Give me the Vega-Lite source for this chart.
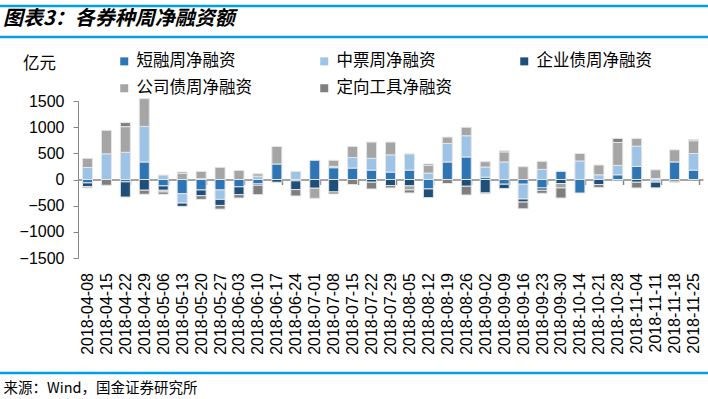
{
"$schema": "https://vega.github.io/schema/vega-lite/v6.json",
"width": 625, "height": 157,
"autosize": {"type": "none"},
"padding": {"left": 78, "top": 101, "right": 5, "bottom": 141},
"background": "white",
"config": {"view": {"stroke": null}, "axisY": {"labelOverlap": false}, "axisQuantitative": {"labelOverlap": false}},
"title": {"text": "图表3：各券种周净融资额", "anchor": "start", "frame": "group", "font": "Noto Sans CJK SC", "fontSize": 20, "fontWeight": "bold", "fontStyle": "italic", "color": "#000000", "dx": -75, "dy": 24, "offset": 0},
"layer": [
{
"data": {"values": [
{"d":"2018-04-08","s":"短融周净融资","i":1,"v":-65},{"d":"2018-04-08","s":"中票周净融资","i":2,"v":230},{"d":"2018-04-08","s":"企业债周净融资","i":3,"v":-70},{"d":"2018-04-08","s":"公司债周净融资","i":4,"v":175},{"d":"2018-04-08","s":"定向工具净融资","i":5,"v":-25},
{"d":"2018-04-15","s":"中票周净融资","i":2,"v":490},{"d":"2018-04-15","s":"公司债周净融资","i":4,"v":450},{"d":"2018-04-15","s":"定向工具净融资","i":5,"v":-110},
{"d":"2018-04-22","s":"短融周净融资","i":1,"v":-45},{"d":"2018-04-22","s":"中票周净融资","i":2,"v":520},{"d":"2018-04-22","s":"企业债周净融资","i":3,"v":-290},{"d":"2018-04-22","s":"公司债周净融资","i":4,"v":490},{"d":"2018-04-22","s":"定向工具净融资","i":5,"v":77},
{"d":"2018-04-29","s":"短融周净融资","i":1,"v":335},{"d":"2018-04-29","s":"中票周净融资","i":2,"v":680},{"d":"2018-04-29","s":"企业债周净融资","i":3,"v":-205},{"d":"2018-04-29","s":"公司债周净融资","i":4,"v":530},{"d":"2018-04-29","s":"定向工具净融资","i":5,"v":-77},
{"d":"2018-05-06","s":"短融周净融资","i":1,"v":-122},{"d":"2018-05-06","s":"中票周净融资","i":2,"v":84},{"d":"2018-05-06","s":"企业债周净融资","i":3,"v":-84},{"d":"2018-05-06","s":"公司债周净融资","i":4,"v":-32},{"d":"2018-05-06","s":"定向工具净融资","i":5,"v":-45},
{"d":"2018-05-13","s":"短融周净融资","i":1,"v":-270},{"d":"2018-05-13","s":"中票周净融资","i":2,"v":-180},{"d":"2018-05-13","s":"企业债周净融资","i":3,"v":-64},{"d":"2018-05-13","s":"公司债周净融资","i":4,"v":116},{"d":"2018-05-13","s":"定向工具净融资","i":5,"v":26},
{"d":"2018-05-20","s":"短融周净融资","i":1,"v":-200},{"d":"2018-05-20","s":"中票周净融资","i":2,"v":15},{"d":"2018-05-20","s":"企业债周净融资","i":3,"v":-110},{"d":"2018-05-20","s":"公司债周净融资","i":4,"v":140},{"d":"2018-05-20","s":"定向工具净融资","i":5,"v":-70},
{"d":"2018-05-27","s":"短融周净融资","i":1,"v":-200},{"d":"2018-05-27","s":"中票周净融资","i":2,"v":-180},{"d":"2018-05-27","s":"企业债周净融资","i":3,"v":-116},{"d":"2018-05-27","s":"公司债周净融资","i":4,"v":232},{"d":"2018-05-27","s":"定向工具净融资","i":5,"v":-70},
{"d":"2018-06-03","s":"短融周净融资","i":1,"v":-140},{"d":"2018-06-03","s":"企业债周净融资","i":3,"v":-150},{"d":"2018-06-03","s":"公司债周净融资","i":4,"v":174},{"d":"2018-06-03","s":"定向工具净融资","i":5,"v":-64},
{"d":"2018-06-10","s":"短融周净融资","i":1,"v":-84},{"d":"2018-06-10","s":"中票周净融资","i":2,"v":64},{"d":"2018-06-10","s":"企业债周净融资","i":3,"v":-26},{"d":"2018-06-10","s":"公司债周净融资","i":4,"v":45},{"d":"2018-06-10","s":"定向工具净融资","i":5,"v":-180},
{"d":"2018-06-17","s":"短融周净融资","i":1,"v":296},{"d":"2018-06-17","s":"企业债周净融资","i":3,"v":-52},{"d":"2018-06-17","s":"公司债周净融资","i":4,"v":335},
{"d":"2018-06-24","s":"短融周净融资","i":1,"v":-26},{"d":"2018-06-24","s":"中票周净融资","i":2,"v":155},{"d":"2018-06-24","s":"企业债周净融资","i":3,"v":-167},{"d":"2018-06-24","s":"定向工具净融资","i":5,"v":-122},
{"d":"2018-07-01","s":"短融周净融资","i":1,"v":367},{"d":"2018-07-01","s":"企业债周净融资","i":3,"v":-167},{"d":"2018-07-01","s":"公司债周净融资","i":4,"v":-193},
{"d":"2018-07-08","s":"短融周净融资","i":1,"v":225},{"d":"2018-07-08","s":"中票周净融资","i":2,"v":26},{"d":"2018-07-08","s":"企业债周净融资","i":3,"v":-238},{"d":"2018-07-08","s":"公司债周净融资","i":4,"v":116},{"d":"2018-07-08","s":"定向工具净融资","i":5,"v":-39},
{"d":"2018-07-15","s":"短融周净融资","i":1,"v":219},{"d":"2018-07-15","s":"中票周净融资","i":2,"v":200},{"d":"2018-07-15","s":"公司债周净融资","i":4,"v":212},{"d":"2018-07-15","s":"定向工具净融资","i":5,"v":-97},
{"d":"2018-07-22","s":"短融周净融资","i":1,"v":180},{"d":"2018-07-22","s":"中票周净融资","i":2,"v":225},{"d":"2018-07-22","s":"企业债周净融资","i":3,"v":-52},{"d":"2018-07-22","s":"公司债周净融资","i":4,"v":310},{"d":"2018-07-22","s":"定向工具净融资","i":5,"v":-129},
{"d":"2018-07-29","s":"短融周净融资","i":1,"v":142},{"d":"2018-07-29","s":"中票周净融资","i":2,"v":328},{"d":"2018-07-29","s":"企业债周净融资","i":3,"v":-116},{"d":"2018-07-29","s":"公司债周净融资","i":4,"v":245},{"d":"2018-07-29","s":"定向工具净融资","i":5,"v":-45},
{"d":"2018-08-05","s":"短融周净融资","i":1,"v":180},{"d":"2018-08-05","s":"中票周净融资","i":2,"v":309},{"d":"2018-08-05","s":"企业债周净融资","i":3,"v":-122},{"d":"2018-08-05","s":"公司债周净融资","i":4,"v":-77},{"d":"2018-08-05","s":"定向工具净融资","i":5,"v":-58},
{"d":"2018-08-12","s":"短融周净融资","i":1,"v":-180},{"d":"2018-08-12","s":"中票周净融资","i":2,"v":122},{"d":"2018-08-12","s":"企业债周净融资","i":3,"v":-167},{"d":"2018-08-12","s":"公司债周净融资","i":4,"v":148},{"d":"2018-08-12","s":"定向工具净融资","i":5,"v":26},
{"d":"2018-08-19","s":"短融周净融资","i":1,"v":335},{"d":"2018-08-19","s":"中票周净融资","i":2,"v":354},{"d":"2018-08-19","s":"公司债周净融资","i":4,"v":122},{"d":"2018-08-19","s":"定向工具净融资","i":5,"v":-77},
{"d":"2018-08-26","s":"短融周净融资","i":1,"v":431},{"d":"2018-08-26","s":"中票周净融资","i":2,"v":406},{"d":"2018-08-26","s":"企业债周净融资","i":3,"v":-129},{"d":"2018-08-26","s":"公司债周净融资","i":4,"v":161},{"d":"2018-08-26","s":"定向工具净融资","i":5,"v":-167},
{"d":"2018-09-02","s":"短融周净融资","i":1,"v":45},{"d":"2018-09-02","s":"中票周净融资","i":2,"v":193},{"d":"2018-09-02","s":"企业债周净融资","i":3,"v":-258},{"d":"2018-09-02","s":"公司债周净融资","i":4,"v":103},{"d":"2018-09-02","s":"定向工具净融资","i":5,"v":-15},
{"d":"2018-09-09","s":"短融周净融资","i":1,"v":-90},{"d":"2018-09-09","s":"中票周净融资","i":2,"v":335},{"d":"2018-09-09","s":"企业债周净融资","i":3,"v":-84},{"d":"2018-09-09","s":"公司债周净融资","i":4,"v":193},{"d":"2018-09-09","s":"定向工具净融资","i":5,"v":19},
{"d":"2018-09-16","s":"短融周净融资","i":1,"v":-90},{"d":"2018-09-16","s":"中票周净融资","i":2,"v":-283},{"d":"2018-09-16","s":"企业债周净融资","i":3,"v":-58},{"d":"2018-09-16","s":"公司债周净融资","i":4,"v":245},{"d":"2018-09-16","s":"定向工具净融资","i":5,"v":-129},
{"d":"2018-09-23","s":"短融周净融资","i":1,"v":-161},{"d":"2018-09-23","s":"中票周净融资","i":2,"v":193},{"d":"2018-09-23","s":"企业债周净融资","i":3,"v":-45},{"d":"2018-09-23","s":"公司债周净融资","i":4,"v":155},{"d":"2018-09-23","s":"定向工具净融资","i":5,"v":-58},
{"d":"2018-09-30","s":"短融周净融资","i":1,"v":155},{"d":"2018-09-30","s":"企业债周净融资","i":3,"v":-77},{"d":"2018-09-30","s":"公司债周净融资","i":4,"v":-84},{"d":"2018-09-30","s":"定向工具净融资","i":5,"v":-193},
{"d":"2018-10-14","s":"短融周净融资","i":1,"v":-258},{"d":"2018-10-14","s":"中票周净融资","i":2,"v":354},{"d":"2018-10-14","s":"公司债周净融资","i":4,"v":142},
{"d":"2018-10-21","s":"中票周净融资","i":2,"v":90},{"d":"2018-10-21","s":"企业债周净融资","i":3,"v":-97},{"d":"2018-10-21","s":"公司债周净融资","i":4,"v":187},{"d":"2018-10-21","s":"定向工具净融资","i":5,"v":-58},
{"d":"2018-10-28","s":"短融周净融资","i":1,"v":90},{"d":"2018-10-28","s":"中票周净融资","i":2,"v":180},{"d":"2018-10-28","s":"企业债周净融资","i":3,"v":-26},{"d":"2018-10-28","s":"公司债周净融资","i":4,"v":438},{"d":"2018-10-28","s":"定向工具净融资","i":5,"v":77},
{"d":"2018-11-04","s":"短融周净融资","i":1,"v":251},{"d":"2018-11-04","s":"中票周净融资","i":2,"v":386},{"d":"2018-11-04","s":"企业债周净融资","i":3,"v":-52},{"d":"2018-11-04","s":"公司债周净融资","i":4,"v":148},{"d":"2018-11-04","s":"定向工具净融资","i":5,"v":-110},
{"d":"2018-11-11","s":"短融周净融资","i":1,"v":20},{"d":"2018-11-11","s":"中票周净融资","i":2,"v":-50},{"d":"2018-11-11","s":"企业债周净融资","i":3,"v":-110},{"d":"2018-11-11","s":"公司债周净融资","i":4,"v":165},
{"d":"2018-11-18","s":"短融周净融资","i":1,"v":335},{"d":"2018-11-18","s":"企业债周净融资","i":3,"v":-32},{"d":"2018-11-18","s":"公司债周净融资","i":4,"v":232},{"d":"2018-11-18","s":"定向工具净融资","i":5,"v":-26},
{"d":"2018-11-25","s":"短融周净融资","i":1,"v":180},{"d":"2018-11-25","s":"中票周净融资","i":2,"v":316},{"d":"2018-11-25","s":"公司债周净融资","i":4,"v":245},{"d":"2018-11-25","s":"定向工具净融资","i":5,"v":19}
]},
"mark": {"type": "bar", "stroke": "#e6e6e6", "strokeWidth": 1},
"encoding": {
"x": {"field": "d", "type": "nominal", "sort": null,
 "scale": {"paddingInner": 0.47, "paddingOuter": 0.235},
 "axis": {"title": "来源：Wind，国金证券研究所", "orient": "bottom", "offset": -78.5,
  "labelAngle": -90, "labelAlign": "right", "labelBaseline": "middle", "labelPadding": 88,
  "labelFont": "Liberation Sans", "labelFontSize": 16, "labelColor": "#000000", "labelOverlap": false,
  "domainColor": "#868686", "domainWidth": 1.5, "tickBand": "extent", "tickSize": 5, "tickColor": "#868686", "tickWidth": 1.5,
  "tickOpacity": {"condition": {"test": "indexof(['2018-04-22','2018-05-06','2018-05-20','2018-06-03','2018-06-17','2018-07-01','2018-07-15','2018-07-29','2018-08-12','2018-08-26','2018-09-09','2018-09-23','2018-10-14','2018-10-28','2018-11-11','2018-11-25'], datum.value) >= 0", "value": 1}, "value": 0},
  "titleX": -75, "titleY": 209, "titleAlign": "left", "titleAnchor": "start", "titleBaseline": "middle",
  "titleFont": "Noto Sans CJK SC", "titleFontSize": 14.5, "titleFontWeight": "normal", "titleColor": "#000000"}},
"y": {"field": "v", "type": "quantitative", "stack": "zero",
 "scale": {"domain": [-1500, 1500], "nice": false, "zero": false},
 "axis": {"title": "亿元", "values": [-1500,-1000,-500,0,500,1000,1500], "format": "d", "labelOverlap": false, "grid": false,
  "domainColor": "#868686", "tickColor": "#868686", "tickSize": 5,
  "labelFont": "Liberation Sans", "labelFontSize": 16, "labelColor": "#000000", "labelPadding": 9,
  "titleAngle": 0, "titleX": -55.5, "titleY": -38, "titleAlign": "left", "titleBaseline": "middle",
  "titleFont": "Noto Sans CJK SC", "titleFontSize": 16.5, "titleFontWeight": "normal", "titleColor": "#000000"}},
"color": {"field": "s", "type": "nominal",
 "scale": {"domain": ["短融周净融资","中票周净融资","企业债周净融资","公司债周净融资","定向工具净融资"],
  "range": ["#2E75B6","#9DC3E6","#1F4E79","#A5A5A5","#7F7F7F"]},
 "legend": {"title": null, "orient": "none", "legendX": 38, "legendY": -48, "direction": "horizontal",
  "columns": 3, "gridAlign": "all", "columnPadding": 64, "rowPadding": 10,
  "symbolType": "square", "symbolSize": 64, "symbolStrokeWidth": 0,
  "labelFont": "Noto Sans CJK SC", "labelFontSize": 16.5, "labelColor": "#000000", "labelOffset": 4, "labelLimit": 300}},
"order": {"field": "i", "type": "quantitative"}
}
},
{
"data": {"values": [{}]},
"layer": [
 {"mark": {"type": "rule", "color": "#009FE3", "strokeWidth": 2.5, "clip": false},
  "encoding": {"x": {"datum": -0.1248, "type": "quantitative", "scale": {"domain": [0, 1], "nice": false, "zero": false}, "axis": null},
   "x2": {"datum": 1.008}, "y": {"datum": 3315, "type": "quantitative", "scale": {"domain": [-1500, 1500], "nice": false, "zero": false}, "axis": null}}},
 {"mark": {"type": "rule", "color": "#009FE3", "strokeWidth": 2.5, "clip": false},
  "encoding": {"x": {"datum": -0.1248, "type": "quantitative", "scale": {"domain": [0, 1], "nice": false, "zero": false}, "axis": null},
   "x2": {"datum": 1.008}, "y": {"datum": 2723, "type": "quantitative", "scale": {"domain": [-1500, 1500], "nice": false, "zero": false}, "axis": null}}},
 {"mark": {"type": "rule", "color": "#009FE3", "strokeWidth": 2.5, "clip": false},
  "encoding": {"x": {"datum": -0.1248, "type": "quantitative", "scale": {"domain": [0, 1], "nice": false, "zero": false}, "axis": null},
   "x2": {"datum": 1.008}, "y": {"datum": -3697, "type": "quantitative", "scale": {"domain": [-1500, 1500], "nice": false, "zero": false}, "axis": null}}}
]
}
],
"resolve": {"scale": {"x": "independent", "y": "independent"}}
}
